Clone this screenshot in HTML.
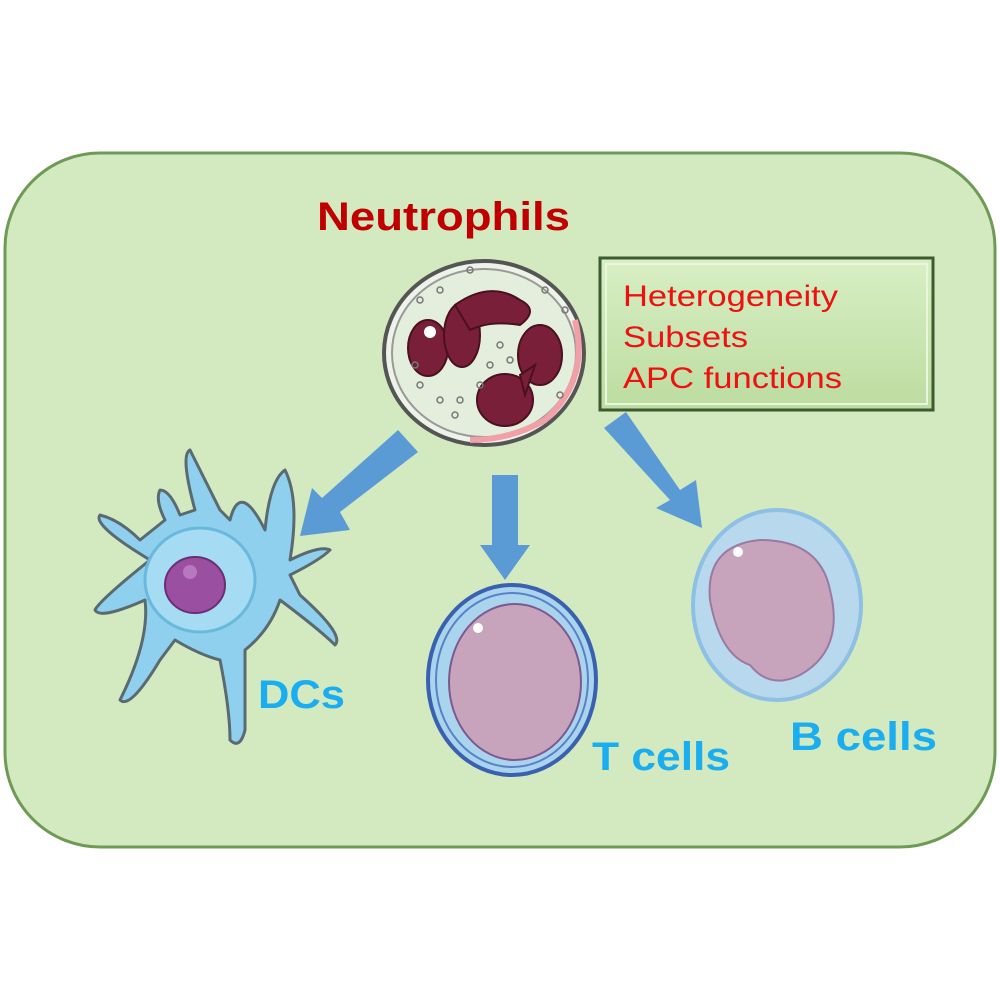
<!DOCTYPE html>
<html><head><style>body{margin:0;background:#fff}svg{display:block}</style></head><body>
<svg width="1000" height="1000" viewBox="0 0 1000 1000" xmlns="http://www.w3.org/2000/svg" font-family="Liberation Sans, sans-serif">
<defs>
<linearGradient id="bx" x1="0" y1="0" x2="0" y2="1"><stop offset="0" stop-color="#d8efc4"/><stop offset="1" stop-color="#bcdca0"/></linearGradient>
</defs>
<rect x="5" y="153" width="990" height="694" rx="95" fill="#d3eac1" stroke="#6f9a55" stroke-width="3"/>
<text x="317" y="230" font-size="40" font-weight="bold" fill="#c00000" textLength="253" lengthAdjust="spacingAndGlyphs">Neutrophils</text>
<!-- box -->
<rect x="600" y="258" width="333" height="152" fill="url(#bx)" stroke="#3d5a30" stroke-width="3"/>
<rect x="606" y="264" width="321" height="140" fill="none" stroke="#e8f6dc" stroke-width="2"/>
<g font-size="30" fill="#ee1111">
<text x="623" y="306" textLength="215" lengthAdjust="spacingAndGlyphs">Heterogeneity</text>
<text x="623" y="347" textLength="125" lengthAdjust="spacingAndGlyphs">Subsets</text>
<text x="623" y="388" textLength="219" lengthAdjust="spacingAndGlyphs">APC functions</text></g>
<!-- neutrophil -->
<ellipse cx="484" cy="353" rx="100" ry="92" fill="#eef3ea" stroke="#555" stroke-width="4"/>
<ellipse cx="484" cy="353" rx="92" ry="84" fill="#e3efdc" stroke="#999" stroke-width="2"/>
<path d="M575 320 Q590 380 545 420 Q510 440 470 440" fill="none" stroke="#f2a0a8" stroke-width="6"/>
<g fill="#7a1f3a" stroke="#4a1020" stroke-width="2">
<ellipse cx="428" cy="348" rx="20" ry="28"/>
<ellipse cx="462" cy="335" rx="18" ry="32"/>
<path d="M455 305 Q490 280 520 300 Q540 310 520 325 Q490 320 470 330 Z"/>
<ellipse cx="540" cy="355" rx="22" ry="30"/>
<ellipse cx="505" cy="400" rx="28" ry="26"/>
<path d="M520 375 L535 365 L525 395 Z"/>
</g>
<circle cx="430" cy="332" r="6" fill="#fff"/>
<g fill="none" stroke="#777" stroke-width="1.5">
<circle cx="420" cy="300" r="3"/><circle cx="440" cy="290" r="3"/><circle cx="500" cy="345" r="3"/><circle cx="490" cy="365" r="3"/><circle cx="510" cy="360" r="3"/><circle cx="420" cy="385" r="3"/><circle cx="440" cy="400" r="3"/><circle cx="455" cy="415" r="3"/><circle cx="560" cy="395" r="3"/><circle cx="565" cy="310" r="3"/><circle cx="415" cy="365" r="3"/><circle cx="480" cy="385" r="3"/><circle cx="470" cy="270" r="3"/><circle cx="545" cy="290" r="3"/><circle cx="460" cy="400" r="3"/>
</g>
<!-- arrows -->
<g fill="#5b9bd5">
<path d="M398 430 L418 452 L340 512 L350 530 L300 536 L312 488 L322 498 Z"/>
<path d="M492 475 L518 475 L518 545 L530 545 L505 580 L480 545 L492 545 Z"/>
<path d="M604 428 L626 412 L680 490 L696 480 L702 528 L656 508 L670 500 Z"/>
</g>
<!-- DC -->
<g fill="#8fd0ee" stroke="#5a6a70" stroke-width="3" stroke-linejoin="round">
<path d="M140 540 Q120 520 100 515 Q92 525 150 560 Q100 600 95 610 Q100 620 145 600 Q150 640 120 700 Q130 710 160 660 L175 640 Q200 655 220 660 Q230 710 230 740 Q240 750 245 730 L245 650 Q270 630 280 600 Q320 630 335 645 Q345 635 300 595 L290 575 Q320 560 330 550 Q320 545 290 560 Q300 500 285 470 Q270 480 265 530 Q240 480 230 520 L220 510 Q200 470 190 450 Q180 455 195 510 L180 515 Q170 490 160 490 Q155 500 165 520 Z"/>
</g>
<ellipse cx="200" cy="580" rx="55" ry="52" fill="#a6dcf3" stroke="#6ab8dc" stroke-width="3"/>
<ellipse cx="195" cy="585" rx="30" ry="28" fill="#9b4fa0" stroke="#6a2e72" stroke-width="2"/>
<circle cx="190" cy="572" r="7" fill="#b878c0"/>
<text x="258" y="708" font-size="40" font-weight="bold" fill="#1aaef0" textLength="87" lengthAdjust="spacingAndGlyphs">DCs</text>
<!-- T cell -->
<ellipse cx="512" cy="680" rx="84" ry="95" fill="#aad4ee" stroke="#3a60b0" stroke-width="4"/>
<ellipse cx="512" cy="680" rx="76" ry="87" fill="none" stroke="#5a80c8" stroke-width="2"/>
<ellipse cx="515" cy="682" rx="66" ry="78" fill="#c8a4bc" stroke="#7a5a90" stroke-width="2"/>
<circle cx="478" cy="628" r="5" fill="#fff"/>
<text x="592" y="770" font-size="40" font-weight="bold" fill="#1aaef0" textLength="138" lengthAdjust="spacingAndGlyphs">T cells</text>
<!-- B cell -->
<ellipse cx="777" cy="605" rx="84" ry="95" fill="#b8d8ee" stroke="#8ebfe4" stroke-width="4"/>
<path d="M710 600 Q705 545 760 540 Q820 540 830 590 Q845 650 800 675 Q770 690 750 665 Q720 655 710 600 Z" fill="#c8a4bc" stroke="#9a7aa0" stroke-width="2"/>
<circle cx="738" cy="552" r="5" fill="#fff"/>
<text x="790" y="750" font-size="40" font-weight="bold" fill="#1aaef0" textLength="147" lengthAdjust="spacingAndGlyphs">B cells</text>
</svg>
</body></html>
